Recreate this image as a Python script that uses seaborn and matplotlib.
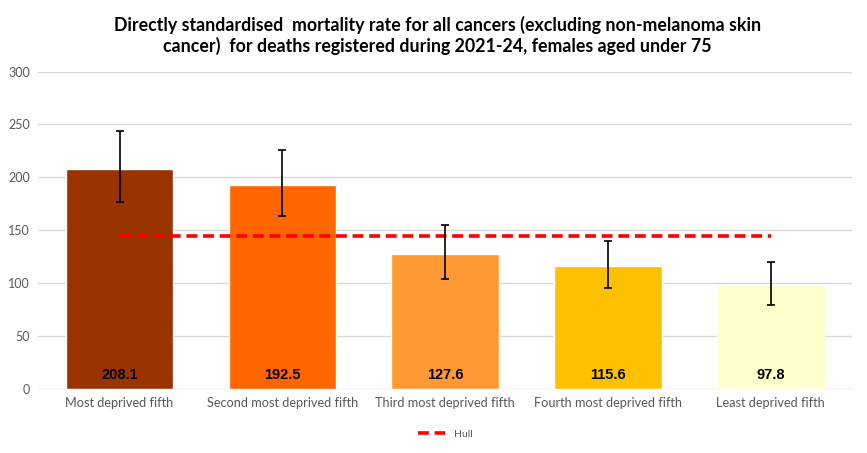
import matplotlib
matplotlib.use("Agg")
import matplotlib.pyplot as plt
import numpy as np
import pandas as pd
import seaborn as sns

# data
categories = ["Most deprived fifth", "Second most deprived fifth", "Third most deprived fifth",
              "Fourth most deprived fifth", "Least deprived fifth"]
rates = [208.1, 192.5, 127.6, 115.6, 97.8]
ci_lower = [176.7, 163.7, 104.1, 94.9, 78.8]
ci_upper = [244.2, 225.5, 154.6, 140.1, 120.2]
hull_rate = [144.6, 144.6, 144.6, 144.6, 144.6]
bar_colors = ["#993300", "#FF6600", "#FF9933", "#FFC000", "#FFFFCC"]

title = ("Directly standardised  mortality rate for all cancers (excluding non-melanoma skin\n"
         "cancer)  for deaths registered during 2021-24, females aged under 75")

df = pd.DataFrame({"group": categories, "rate": rates,
                   "lo": ci_lower, "hi": ci_upper, "hull": hull_rate})

sns.set_style("white")
plt.rcParams["font.family"] = ["Lato", "DejaVu Sans"]

fig, ax = plt.subplots(figsize=(8.67, 4.53), dpi=100)
fig.subplots_adjust(left=0.044, right=0.983, top=0.842, bottom=0.142)

sns.barplot(data=df, x="group", y="rate", hue="group", palette=bar_colors,
            legend=False, width=0.66, ax=ax, zorder=2, errorbar=None, saturation=1)

x = np.arange(len(categories))
yerr = [df["rate"] - df["lo"], df["hi"] - df["rate"]]
ax.errorbar(x, df["rate"], yerr=yerr, fmt="none", ecolor="black",
            elinewidth=1.2, capsize=3, capthick=1.2, zorder=4)

sns.lineplot(x=x, y=df["hull"], ax=ax, color="#FF0000", linewidth=2.6,
             linestyle=(0, (3, 1.6)), label="Hull", zorder=3)

# value labels sit at the foot of each bar
for i, v in enumerate(rates):
    ax.text(i, 13, f"{v:.1f}", ha="center", va="center", fontsize=10.5,
            fontweight="bold", color="black", zorder=5,
            family=["Liberation Sans", "DejaVu Sans"])

ax.set_ylim(0, 300)
ax.set_yticks(range(0, 301, 50))
ax.set_xlim(-0.5, 4.5)
ax.yaxis.grid(True, color="#D9D9D9", linewidth=1)
ax.set_axisbelow(True)
for s in ax.spines.values():
    s.set_visible(False)
ax.axhline(0, color="#D9D9D9", linewidth=1, zorder=1)
ax.set_xlabel("")
ax.set_ylabel("")
ax.tick_params(axis="both", length=0, labelsize=9, colors="#595959", pad=6)
for lbl in ax.get_xticklabels():
    lbl.set_fontsize(9.2)

ax.set_title(title, fontsize=12.8, fontweight="bold", color="black", pad=14, x=0.49)

ax.legend(loc="upper center", bbox_to_anchor=(0.5, -0.1), frameon=False,
          fontsize=7.5, handlelength=2.6, labelcolor="#595959")

fig.savefig("out.png", dpi=100)
